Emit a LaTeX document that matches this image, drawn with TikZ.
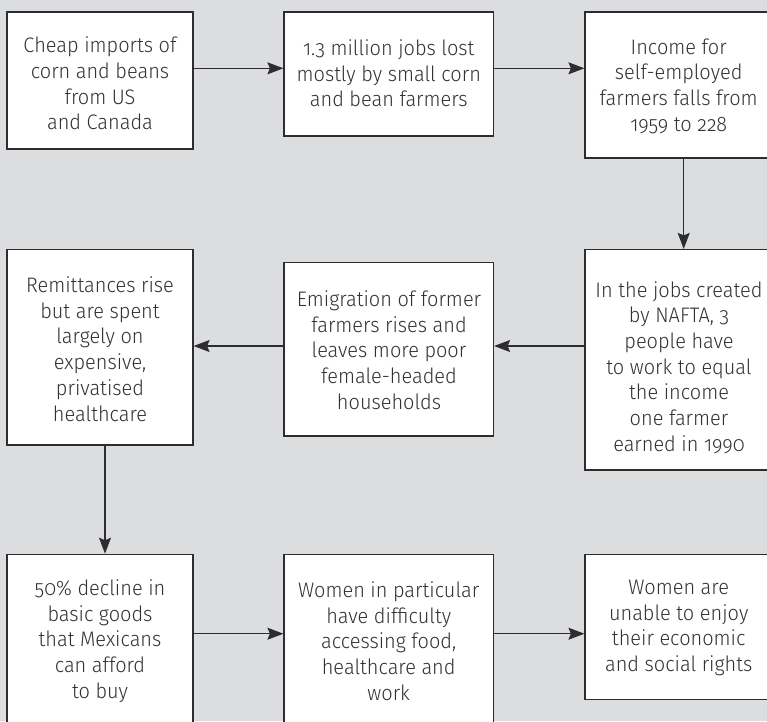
\documentclass[tikz,border=0pt]{standalone}
\usepackage{fontspec}
\setmainfont{Fira Sans Light}[Numbers=OldStyle,FakeStretch=0.95]
\usetikzlibrary{arrows.meta}
\definecolor{bgc}{RGB}{220,221,223}
\definecolor{ink}{RGB}{45,45,47}
\definecolor{txtc}{RGB}{50,50,52}
\begin{document}
\begin{tikzpicture}[x=1pt,y=-1pt,
  box/.style={draw=ink,fill=white,line width=1.2pt,rectangle,inner sep=0pt},
  txt/.style={text=txtc,align=center,inner sep=0pt,font=\fontsize{21}{25.7}\selectfont},
  arr/.style={draw=ink,line width=1.2pt,-{Stealth[length=16pt,width=12pt,inset=2.5pt]}}]
\fill[bgc] (0,0) rectangle (767,721);
\useasboundingbox (0,0) rectangle (767,721);
\begin{scope}
\clip (0,0) rectangle (767,721);
% boxes
\node[box,minimum width=186pt,minimum height=137pt] (b1) at (100,80.5) {};
\node[box,minimum width=209.5pt,minimum height=124pt] (b2) at (388.75,74) {};
\node[box,minimum width=187pt,minimum height=146pt] (b3) at (678.5,85) {};
\node[box,minimum width=187pt,minimum height=220.5pt] (b4) at (678.5,359.75) {};
\node[box,minimum width=209.5pt,minimum height=173.3pt] (b5) at (388.75,349.35) {};
\node[box,minimum width=186pt,minimum height=195.5pt] (b6) at (100,347.25) {};
\node[box,minimum width=186pt,minimum height=185.7pt] (b7) at (100,647.15) {};
\node[box,minimum width=209.5pt,minimum height=185.7pt] (b8) at (388.75,647.15) {};
\node[box,minimum width=187pt,minimum height=145pt] (b9) at (678.5,626.8) {};
% texts
\node[txt] (t1) at (100,83.5) {Cheap imports of\\corn and beans\\from US\\and Canada};
\node[txt] (t2) at (388.8,73.5) {1.3 million jobs lost\\mostly by small corn\\and bean farmers};
\node[txt] (t3) at (678.7,86) {Income for\\self-employed\\farmers falls from\\1959 to 228};
\node[txt] (t4) at (679,367.5) {In the jobs created\\by NAFTA, 3\\people have\\to work to equal\\the income\\one farmer\\earned in 1990};
\node[txt] (t5) at (389,350) {Emigration of former\\farmers rises and\\leaves more poor\\female-headed\\households};
\node[txt] (t6) at (100,349) {Remittances rise\\but are spent\\largely on\\expensive,\\privatised\\healthcare};
\node[txt] (t7) at (100,641) {50\% decline in\\basic goods\\that Mexicans\\can afford\\to buy};
\node[txt] (t8) at (388.7,641) {Women in particular\\have difficulty\\accessing food,\\healthcare and\\work};
\node[txt] (t9) at (678.7,628) {Women are\\unable to enjoy\\their economic\\and social rights};
% guide coordinates
\coordinate (r1) at (0,68.3);
\coordinate (r2) at (0,346);
\coordinate (r3) at (0,633.7);
\coordinate (c1) at (683.7,0);
\coordinate (c2) at (105,0);
% connectors
\draw[arr] (b1.east |- r1) -- (b2.west |- r1);
\draw[arr] (b2.east |- r1) -- (b3.west |- r1);
\draw[arr] (b3.south -| c1) -- (b4.north -| c1);
\draw[arr] (b4.west |- r2) -- (b5.east |- r2);
\draw[arr] (b5.west |- r2) -- (b6.east |- r2);
\draw[arr] (b6.south -| c2) -- (b7.north -| c2);
\draw[arr] (b7.east |- r3) -- (b8.west |- r3);
\draw[arr] (b8.east |- r3) -- (b9.west |- r3);
\end{scope}
\end{tikzpicture}
\end{document}
